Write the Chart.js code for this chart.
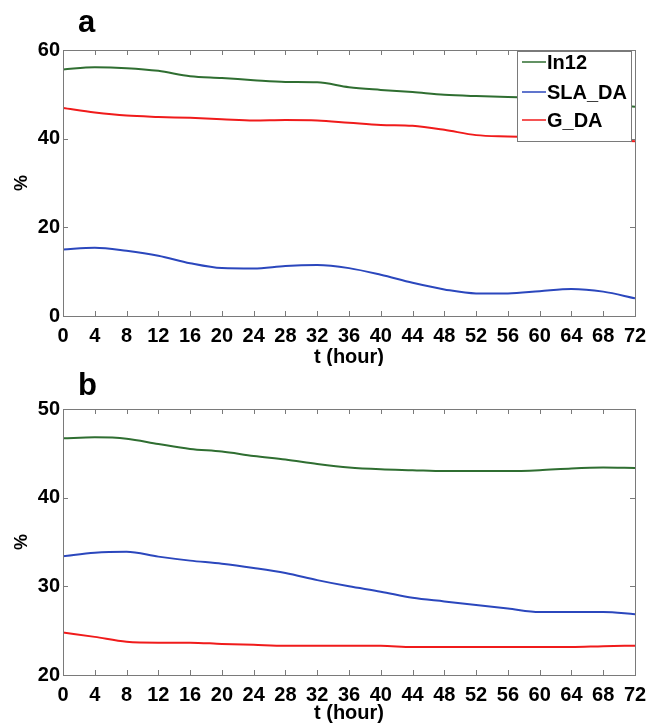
<!DOCTYPE html>
<html>
<head>
<meta charset="utf-8">
<script src="https://cdn.jsdelivr.net/npm/chart.js@4/dist/chart.umd.min.js"></script>
<style>
  html, body { margin: 0; padding: 0; background: #fff; }
  #wrap { position: relative; width: 662px; height: 724px; }
  #wrap div { position: absolute; left: 0; width: 662px; }
</style>
</head>
<body>
<div id="wrap">
  <div style="top:0;height:366px"><canvas id="panel-a"></canvas></div>
  <div style="top:366px;height:358px"><canvas id="panel-b"></canvas></div>
</div>
<script>
"use strict";

/* --- DATA --- */

const hours = [0, 4, 8, 12, 16, 20, 24, 28, 32, 36, 40, 44, 48, 52, 56, 60, 64, 68, 72];

const a_in12   = [55.6, 56.1, 55.9, 55.3, 54.1, 53.7, 53.2, 52.8, 52.7, 51.6, 51.0, 50.5, 49.9, 49.6, 49.4, 49.1, 48.6, 47.9, 47.2];
const a_sla_da = [15.0, 15.4, 14.7, 13.6, 11.9, 10.8, 10.7, 11.3, 11.5, 10.8, 9.3, 7.5, 6.0, 5.1, 5.1, 5.6, 6.1, 5.5, 4.0];
const a_g_da   = [46.9, 45.9, 45.2, 44.9, 44.7, 44.4, 44.1, 44.2, 44.1, 43.6, 43.1, 42.9, 42.0, 40.8, 40.5, 40.3, 40.1, 39.8, 39.4];

const b_in12   = [46.7, 46.8, 46.65, 46.05, 45.5, 45.2, 44.7, 44.3, 43.8, 43.4, 43.2, 43.1, 43.0, 43.0, 43.0, 43.1, 43.3, 43.4, 43.35];
const b_sla_da = [33.4, 33.8, 33.9, 33.35, 32.9, 32.55, 32.07, 31.5, 30.7, 30.0, 29.4, 28.7, 28.3, 27.9, 27.5, 27.1, 27.1, 27.1, 26.85];
const b_g_da   = [24.8, 24.3, 23.75, 23.65, 23.65, 23.5, 23.4, 23.3, 23.3, 23.3, 23.3, 23.15, 23.15, 23.15, 23.15, 23.15, 23.15, 23.25, 23.3];

const series_names = ['In12', 'SLA_DA', 'G_DA'];
const series_colors = ['#2f6e31', '#2b47bd', '#f01b1b'];

const FONT = '"Liberation Sans", Arial, Helvetica, sans-serif';
const FRAME = '#7a7a7a';

function to_points(values) {
  return values.map((v, i) => ({ x: hours[i], y: v }));
}

function make_datasets(lists) {
  return lists.map((values, i) => ({
    label: series_names[i],
    data: to_points(values),
    borderColor: series_colors[i],
    borderWidth: 2,
    pointRadius: 0,
    cubicInterpolationMode: 'monotone',
    fill: false
  }));
}

/* --- frame, inward ticks, panel letter, legend --- */

const panel_decor = {
  id: 'panel_decor',
  afterDatasetsDraw(chart, args, opts) {
    const ctx = chart.ctx;
    const area = chart.chartArea;
    const xs = chart.scales.x;
    const ys = chart.scales.y;
    const tick_len = 5;

    ctx.save();
    ctx.strokeStyle = FRAME;
    ctx.lineWidth = 1;
    ctx.beginPath();
    xs.ticks.forEach(t => {
      const px = Math.round(xs.getPixelForValue(t.value)) + 0.5;
      ctx.moveTo(px, area.bottom);
      ctx.lineTo(px, area.bottom - tick_len);
      ctx.moveTo(px, area.top);
      ctx.lineTo(px, area.top + tick_len);
    });
    ys.ticks.forEach(t => {
      const py = Math.round(ys.getPixelForValue(t.value)) + 0.5;
      ctx.moveTo(area.left, py);
      ctx.lineTo(area.left + tick_len, py);
      ctx.moveTo(area.right, py);
      ctx.lineTo(area.right - tick_len, py);
    });
    ctx.stroke();
    ctx.strokeRect(Math.round(area.left) + 0.5, Math.round(area.top) + 0.5,
      Math.round(area.right - area.left), Math.round(area.bottom - area.top));

    // legend box in the upper right corner
    if (opts.legend) {
      const lx = 517, ly = 51, lw = 114, lh = 90;
      ctx.fillStyle = '#fff';
      ctx.fillRect(lx, ly, lw, lh);
      ctx.strokeRect(lx + 0.5, ly + 0.5, lw, lh);
      ctx.font = 'bold 20px ' + FONT;
      ctx.textBaseline = 'middle';
      ctx.textAlign = 'left';
      const rows = [62, 92, 120];
      chart.data.datasets.forEach((ds, i) => {
        ctx.strokeStyle = ds.borderColor;
        ctx.lineWidth = 1.5;
        ctx.beginPath();
        ctx.moveTo(lx + 5, rows[i]);
        ctx.lineTo(lx + 29, rows[i]);
        ctx.stroke();
        ctx.fillStyle = '#000';
        ctx.fillText(ds.label, lx + 30, rows[i] + 1);
      });
    }

    ctx.fillStyle = '#000';
    ctx.font = 'bold 31px ' + FONT;
    ctx.textAlign = 'left';
    ctx.textBaseline = 'alphabetic';
    ctx.fillText(opts.letter, 78, opts.letter_y);
    ctx.restore();
  }
};

function make_options(y_min, y_max, y_step, top_pad, x_height, title_pad, letter, letter_y, legend) {
  return {
    responsive: true,
    maintainAspectRatio: false,
    animation: false,
    layout: { padding: { left: 0, right: 27, top: top_pad, bottom: 0 } },
    plugins: {
      legend: { display: false },
      tooltip: { enabled: false },
      panel_decor: { letter: letter, letter_y: letter_y, legend: legend }
    },
    scales: {
      x: {
        type: 'linear',
        min: 0,
        max: 72,
        grid: { display: false, drawTicks: false },
        border: { display: false },
        ticks: {
          stepSize: 4,
          padding: 8,
          color: '#000',
          maxRotation: 0,
          autoSkip: false,
          font: { family: FONT, size: 20, weight: 'bold' }
        },
        title: {
          display: true,
          text: 't (hour)',
          color: '#000',
          padding: { top: 0, bottom: title_pad },
          font: { family: FONT, size: 20, weight: 'bold', lineHeight: 1 }
        },
        afterFit(scale) { scale.height = x_height; }
      },
      y: {
        min: y_min,
        max: y_max,
        grid: { display: false, drawTicks: false },
        border: { display: false },
        ticks: {
          stepSize: y_step,
          padding: 3,
          color: '#000',
          font: { family: FONT, size: 20, weight: 'bold' }
        },
        title: {
          display: true,
          text: '%',
          color: '#000',
          padding: { top: 13, bottom: 0 },
          font: { family: FONT, size: 18, weight: 'bold', lineHeight: 1 }
        },
        afterFit(scale) { scale.width = 63; }
      }
    }
  };
}

/* --- PANEL A --- */

const panel_a = new Chart(document.getElementById('panel-a'), {
  type: 'line',
  data: { datasets: make_datasets([a_in12, a_sla_da, a_g_da]) },
  options: make_options(0, 60, 20, 50, 50, -1, 'a', 32, true),
  plugins: [panel_decor]
});

/* --- PANEL B --- */

const panel_b = new Chart(document.getElementById('panel-b'), {
  type: 'line',
  data: { datasets: make_datasets([b_in12, b_sla_da, b_g_da]) },
  options: make_options(20, 50, 10, 43, 49, 1, 'b', 29, false),
  plugins: [panel_decor]
});
</script>
</body>
</html>
